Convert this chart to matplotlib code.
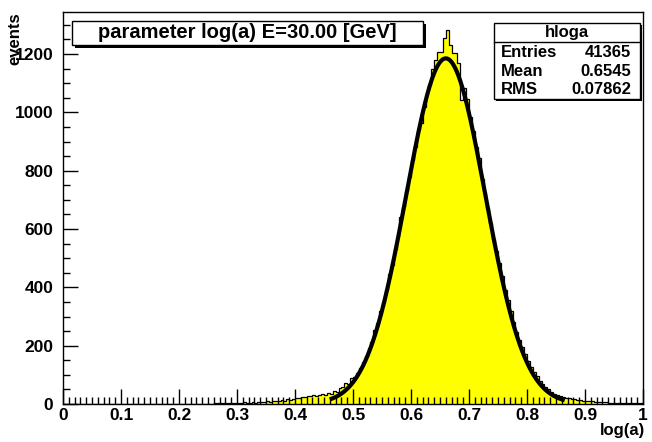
import numpy as np
import matplotlib
matplotlib.use('Agg')
import matplotlib.pyplot as plt
from matplotlib.patches import Rectangle
from matplotlib.lines import Line2D
from matplotlib.ticker import MultipleLocator

# ---------------- data ----------------
x_min, x_max, n_bins = 0.0, 1.0, 200
counts = [
    # 0.00 - 0.26 (bins 0-51)
    0, 0, 0, 0, 0, 0, 0, 0, 0, 0,
    0, 0, 0, 0, 0, 0, 0, 0, 0, 0,
    0, 0, 0, 0, 0, 0, 0, 0, 0, 0,
    0, 0, 0, 0, 0, 0, 0, 0, 0, 0,
    0, 0, 0, 0, 0, 0, 0, 0, 0, 0,
    0, 0,
    # 0.26 - 0.30
    3, 2, 4, 3, 2, 5, 3, 4,
    # 0.30 - 0.35
    5, 3, 6, 4, 5, 7, 4, 6, 8, 6,
    # 0.35 - 0.40
    9, 8, 12, 10, 11, 14, 12, 16, 15, 18,
    # 0.40 - 0.45
    22, 20, 25, 24, 28, 26, 30, 27, 32, 35,
    # 0.45 - 0.50
    30, 38, 36, 45, 42, 55, 60, 72, 68, 88,
    # 0.50 - 0.55
    94, 108, 122, 145, 165, 192, 214, 255, 278, 320,
    # 0.55 - 0.60
    350, 390, 445, 478, 532, 572, 640, 676, 732, 780,
    # 0.60 - 0.65
    838, 880, 940, 965, 1020, 1065, 1095, 1150, 1180, 1207,
    # 0.65 - 0.70
    1207, 1255, 1282, 1231, 1203, 1203, 1169, 1042, 1085, 1045,
    # 0.70 - 0.75
    985, 935, 880, 842, 770, 728, 672, 622, 565, 525,
    # 0.75 - 0.80
    485, 438, 390, 355, 320, 282, 248, 218, 196, 170,
    # 0.80 - 0.85
    148, 126, 110, 96, 80, 68, 58, 50, 42, 36,
    # 0.85 - 0.90
    30, 28, 25, 22, 20, 18, 16, 14, 15, 12,
    # 0.90 - 0.95
    11, 10, 9, 8, 8, 7, 6, 6, 5, 5,
    # 0.95 - 1.00
    4, 4, 3, 3, 3, 2, 3, 2, 2, 3,
]

# gaussian fit parameters
fit_amp, fit_mean, fit_sigma = 1185.0, 0.66, 0.068
fit_lo, fit_hi = 0.46, 0.865

title_text = "parameter log(a) E=30.00 [GeV]"
stats_name = "hloga"
stats_rows = [("Entries", "41365"), ("Mean", "0.6545"), ("RMS", "0.07862")]
x_label = "log(a)"
y_label = "events"
y_max = 1344

# ---------------- figure ----------------
plt.rcParams['font.family'] = ['Liberation Sans', 'DejaVu Sans']
plt.rcParams['font.weight'] = 'bold'

W, H = 652, 442
fig = plt.figure(figsize=(W / 100, H / 100), dpi=100)
fig.patch.set_facecolor('white')

def fx(px):
    return px / W

def fy(py):
    return 1 - py / H

ax_l, ax_r, ax_t, ax_b = 63, 643, 12, 404
ax = fig.add_axes([fx(ax_l), fy(ax_b), (ax_r - ax_l) / W, (ax_b - ax_t) / H])

edges = np.linspace(x_min, x_max, n_bins + 1)
ax.stairs(counts, edges, fill=True, color='#ffff00', zorder=1)
ax.stairs(counts, edges, color='black', lw=0.9, zorder=2)

xf = np.linspace(fit_lo, fit_hi, 400)
yf = fit_amp * np.exp(-0.5 * ((xf - fit_mean) / fit_sigma) ** 2)
ax.plot(xf, yf, color='black', lw=3.0, zorder=3, solid_capstyle='butt')

ax.set_xlim(x_min, x_max)
ax.set_ylim(0, y_max)

ax.xaxis.set_major_locator(MultipleLocator(0.1))
ax.xaxis.set_minor_locator(MultipleLocator(0.01))
ax.yaxis.set_major_locator(MultipleLocator(200))
ax.yaxis.set_minor_locator(MultipleLocator(50))
ax.xaxis.set_major_formatter(matplotlib.ticker.FuncFormatter(
    lambda v, p: ('%g' % round(v, 2))))
ax.tick_params(axis='both', which='major', direction='in', length=11, width=1,
               labelsize=12.5, top=False, right=False)
ax.tick_params(axis='both', which='minor', direction='in', length=5, width=1,
               top=False, right=False)
ax.tick_params(axis='x', which='major', pad=3)
ax.tick_params(axis='y', which='major', pad=7)
for lab in ax.get_xticklabels() + ax.get_yticklabels():
    lab.set_fontweight('bold')
for s in ax.spines.values():
    s.set_linewidth(1)
    s.set_color('black')

# axis titles
fig.text(fx(15), fy(ax_t), y_label, rotation=90, ha='center', va='top',
         fontsize=12, fontweight='bold')
fig.text(fx(ax_r + 2), fy(431), x_label, ha='right', va='center',
         fontsize=12, fontweight='bold')

# boxes with shadow
def pave(x0, y0, x1, y1, shadow=3):
    fig.patches.append(Rectangle((fx(x0 + shadow), fy(y1 + shadow)),
                                 (x1 - x0) / W, (y1 - y0) / H,
                                 transform=fig.transFigure, facecolor='black',
                                 edgecolor='black', lw=0, zorder=10))
    fig.patches.append(Rectangle((fx(x0), fy(y1)), (x1 - x0) / W, (y1 - y0) / H,
                                 transform=fig.transFigure, facecolor='white',
                                 edgecolor='black', lw=1, zorder=11))

pave(72, 21, 423, 45, shadow=3)
fig.text(fx((72 + 423) / 2), fy(33), title_text, ha='center', va='center',
         fontsize=14.5, fontweight='bold', zorder=12)

# stats box
sx0, sy0, sx1, sy1 = 494, 23, 640, 99
pave(sx0, sy0, sx1, sy1, shadow=2)
fig.lines.append(Line2D([fx(sx0), fx(sx1)], [fy(42), fy(42)],
                        transform=fig.transFigure, color='black', lw=1, zorder=12))
fig.text(fx((sx0 + sx1) / 2), fy(32.5), stats_name, ha='center', va='center',
         fontsize=12, fontweight='bold', zorder=12)
row_y = [52.7, 71.5, 89.5]
for (k, v), yy in zip(stats_rows, row_y):
    fig.text(fx(501), fy(yy), k, ha='left', va='center', fontsize=12,
             fontweight='bold', zorder=12)
    fig.text(fx(631), fy(yy), v, ha='right', va='center', fontsize=12,
             fontweight='bold', zorder=12)

fig.savefig('out.png', dpi=100)
